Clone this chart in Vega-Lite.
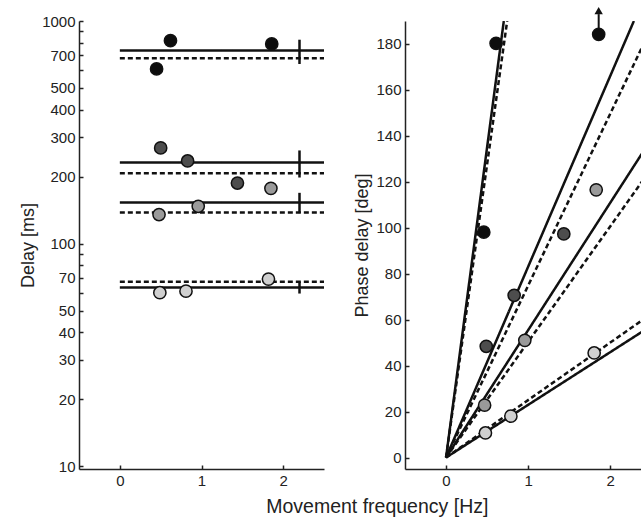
{
  "$schema": "https://vega.github.io/schema/vega-lite/v6.json",
  "padding": {"left": 19, "top": 7, "right": 0, "bottom": 5},
  "spacing": 24,
  "config": {
    "view": {"stroke": null},
    "font": "Liberation Sans",
    "axis": {"grid": false, "domainColor": "#222", "domainWidth": 1.5, "tickColor": "#222", "tickWidth": 1.5, "tickSize": -4, "labelFontSize": 15, "labelColor": "#222", "titleFontSize": 18, "titleFontWeight": "normal", "titleColor": "#222", "labelPadding": 8}
  },
  "datasets": {
    "leftPts": [
      {"g": "a", "f": 0.45, "delay": 609}, {"g": "a", "f": 0.62, "delay": 816}, {"g": "a", "f": 1.86, "delay": 789},
      {"g": "b", "f": 0.50, "delay": 269}, {"g": "b", "f": 0.83, "delay": 235}, {"g": "b", "f": 1.44, "delay": 187},
      {"g": "c", "f": 0.48, "delay": 135}, {"g": "c", "f": 0.96, "delay": 147}, {"g": "c", "f": 1.85, "delay": 177},
      {"g": "d", "f": 0.49, "delay": 60.1}, {"g": "d", "f": 0.81, "delay": 61.1}, {"g": "d", "f": 1.82, "delay": 69.2}
    ],
    "leftLines": [
      {"g": "a", "style": "solid", "f": 0, "delay": 736}, {"g": "a", "style": "solid", "f": 2.5, "delay": 736},
      {"g": "a", "style": "dashed", "f": 0, "delay": 681}, {"g": "a", "style": "dashed", "f": 2.5, "delay": 681},
      {"g": "b", "style": "solid", "f": 0, "delay": 231}, {"g": "b", "style": "solid", "f": 2.5, "delay": 231},
      {"g": "b", "style": "dashed", "f": 0, "delay": 207}, {"g": "b", "style": "dashed", "f": 2.5, "delay": 207},
      {"g": "c", "style": "solid", "f": 0, "delay": 153}, {"g": "c", "style": "solid", "f": 2.5, "delay": 153},
      {"g": "c", "style": "dashed", "f": 0, "delay": 138}, {"g": "c", "style": "dashed", "f": 2.5, "delay": 138},
      {"g": "d", "style": "solid", "f": 0, "delay": 63.5}, {"g": "d", "style": "solid", "f": 2.5, "delay": 63.5},
      {"g": "d", "style": "dashed", "f": 0, "delay": 67.3}, {"g": "d", "style": "dashed", "f": 2.5, "delay": 67.3}
    ],
    "errBars": [
      {"g": "a", "f": 2.2, "lo": 641, "hi": 824},
      {"g": "b", "f": 2.2, "lo": 198, "hi": 262},
      {"g": "c", "f": 2.2, "lo": 137, "hi": 169},
      {"g": "d", "f": 2.2, "lo": 59.6, "hi": 67.3}
    ],
    "rightPts": [
      {"g": "a", "f": 0.46, "phase": 98.1}, {"g": "a", "f": 0.61, "phase": 180.3}, {"g": "a", "f": 1.86, "phase": 184.2},
      {"g": "b", "f": 0.49, "phase": 48.4}, {"g": "b", "f": 0.83, "phase": 70.6}, {"g": "b", "f": 1.435, "phase": 97.3},
      {"g": "c", "f": 0.47, "phase": 22.8}, {"g": "c", "f": 0.96, "phase": 51.0}, {"g": "c", "f": 1.83, "phase": 116.5},
      {"g": "d", "f": 0.48, "phase": 10.7}, {"g": "d", "f": 0.79, "phase": 18.0}, {"g": "d", "f": 1.805, "phase": 45.5}
    ],
    "rightLines": [
      {"g": "a", "style": "solid", "f": 0, "phase": 0}, {"g": "a", "style": "solid", "f": 0.704, "phase": 190},
      {"g": "a", "style": "dashed", "f": 0, "phase": 0}, {"g": "a", "style": "dashed", "f": 0.745, "phase": 190},
      {"g": "b", "style": "solid", "f": 0, "phase": 0}, {"g": "b", "style": "solid", "f": 2.289, "phase": 190},
      {"g": "b", "style": "dashed", "f": 0, "phase": 0}, {"g": "b", "style": "dashed", "f": 2.4, "phase": 179.5},
      {"g": "c", "style": "solid", "f": 0, "phase": 0}, {"g": "c", "style": "solid", "f": 2.4, "phase": 133},
      {"g": "c", "style": "dashed", "f": 0, "phase": 0}, {"g": "c", "style": "dashed", "f": 2.4, "phase": 120.7},
      {"g": "d", "style": "solid", "f": 0, "phase": 0}, {"g": "d", "style": "solid", "f": 2.4, "phase": 55},
      {"g": "d", "style": "dashed", "f": 0, "phase": 0}, {"g": "d", "style": "dashed", "f": 2.4, "phase": 60}
    ],
    "arrow": [
      {"f": 1.86, "lo": 186, "hi": 193, "tip": 194.5}
    ]
  },
  "title": {"text": "Movement frequency [Hz]", "orient": "bottom", "anchor": "middle", "fontSize": 19.5, "fontWeight": "normal", "color": "#222", "dx": 46, "offset": 10},
  "hconcat": [
    {
      "width": 245,
      "height": 448,
      "layer": [
        {
          "data": {"name": "leftLines"},
          "mark": {"type": "line", "color": "#111", "strokeWidth": 2.5},
          "encoding": {
            "x": {"field": "f", "type": "quantitative", "scale": {"domain": [-0.5, 2.5], "nice": false, "zero": false}, "axis": {"values": [0, 1, 2], "format": "d", "title": null}},
            "y": {"field": "delay", "type": "quantitative", "scale": {"type": "log", "domain": [9.7, 1000], "nice": false}, "axis": {"title": "Delay [ms]", "values": [10, 20, 30, 40, 50, 60, 70, 80, 90, 100, 200, 300, 400, 500, 600, 700, 800, 900, 1000], "format": "d", "labelExpr": "indexof([10,20,30,40,50,70,100,200,300,400,500,700,1000], datum.value) >= 0 ? datum.label : ''"}},
            "detail": [{"field": "g"}, {"field": "style"}],
            "strokeDash": {"field": "style", "type": "nominal", "scale": {"domain": ["solid", "dashed"], "range": [[1, 0], [5, 3]]}, "legend": null}
          }
        },
        {
          "data": {"name": "errBars"},
          "mark": {"type": "rule", "color": "#111", "strokeWidth": 2.5},
          "encoding": {
            "x": {"field": "f", "type": "quantitative"},
            "y": {"field": "lo", "type": "quantitative"},
            "y2": {"field": "hi"}
          }
        },
        {
          "data": {"name": "leftPts"},
          "mark": {"type": "point", "filled": true, "shape": "circle", "size": 150, "stroke": "#111", "strokeWidth": 1.5, "opacity": 1},
          "encoding": {
            "x": {"field": "f", "type": "quantitative"},
            "y": {"field": "delay", "type": "quantitative"},
            "fill": {"field": "g", "type": "nominal", "scale": {"domain": ["a", "b", "c", "d"], "range": ["#0d0d0d", "#4d4d4d", "#9a9a9a", "#d0d0d0"]}, "legend": null}
          }
        }
      ]
    },
    {
      "width": 238,
      "height": 448,
      "layer": [
        {
          "data": {"name": "rightLines"},
          "mark": {"type": "line", "color": "#111", "strokeWidth": 2.5, "clip": true},
          "encoding": {
            "x": {"field": "f", "type": "quantitative", "scale": {"domain": [-0.5, 2.4], "nice": false, "zero": false}, "axis": {"values": [0, 1, 2], "format": "d", "title": null}},
            "y": {"field": "phase", "type": "quantitative", "scale": {"domain": [-5, 190], "nice": false, "zero": false}, "axis": {"title": "Phase delay [deg]", "values": [0, 20, 40, 60, 80, 100, 120, 140, 160, 180]}},
            "detail": [{"field": "g"}, {"field": "style"}],
            "strokeDash": {"field": "style", "type": "nominal", "scale": {"domain": ["solid", "dashed"], "range": [[1, 0], [5, 3]]}, "legend": null}
          }
        },
        {
          "data": {"name": "arrow"},
          "mark": {"type": "rule", "color": "#111", "strokeWidth": 2},
          "encoding": {
            "x": {"field": "f", "type": "quantitative"},
            "y": {"field": "lo", "type": "quantitative"},
            "y2": {"field": "hi"}
          }
        },
        {
          "data": {"name": "arrow"},
          "mark": {"type": "point", "shape": "triangle-up", "filled": true, "color": "#111", "size": 70, "opacity": 1},
          "encoding": {
            "x": {"field": "f", "type": "quantitative"},
            "y": {"field": "tip", "type": "quantitative"}
          }
        },
        {
          "data": {"name": "rightPts"},
          "mark": {"type": "point", "filled": true, "shape": "circle", "size": 150, "stroke": "#111", "strokeWidth": 1.5, "opacity": 1},
          "encoding": {
            "x": {"field": "f", "type": "quantitative"},
            "y": {"field": "phase", "type": "quantitative"},
            "fill": {"field": "g", "type": "nominal", "scale": {"domain": ["a", "b", "c", "d"], "range": ["#0d0d0d", "#4d4d4d", "#9a9a9a", "#d0d0d0"]}, "legend": null}
          }
        }
      ]
    }
  ]
}
